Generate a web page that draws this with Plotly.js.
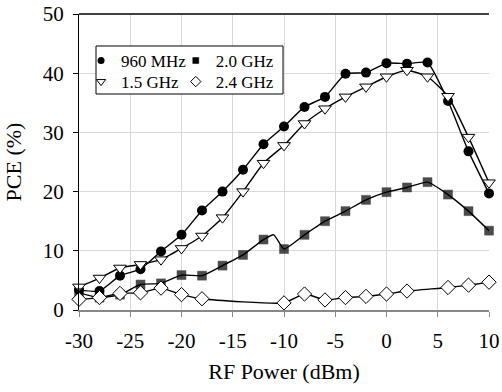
<!DOCTYPE html>
<html>
<head>
<meta charset="utf-8">
<script src="https://cdn.plot.ly/plotly-3.0.1.min.js"></script>
<style>html,body{margin:0;padding:0;background:#fff;}#chart{width:502px;height:392px;}</style>
</head>
<body>
<div id="chart"></div>
<script>
// RF input power (dBm)
const xPower = [-30,-28,-26,-24,-22,-20,-18,-16,-14,-12,-10,-8,-6,-4,-2,0,2,4,6,8,10];
const pce960MHz = [3.4,3.2,5.8,6.9,9.9,12.7,16.8,20.0,23.7,28.0,31.0,34.3,36.0,39.9,40.1,41.7,41.6,41.8,35.3,26.8,19.7];
const pce1500MHz = [3.9,5.4,7.1,7.7,8.5,10.4,12.5,15.6,20.0,24.8,27.8,31.5,34.0,36.0,37.7,39.4,40.5,39.4,36.1,29.2,21.5];
const xPower2G = [-30,-28,-26,-24,-22,-20,-18,-16,-14,-12,-11,-10,-8,-6,-4,-2,0,2,4,6,8,10];
const pce2000MHz = [2.9,2.1,2.6,4.3,4.5,5.9,5.8,7.5,9.3,11.9,12.7,10.3,12.7,15.0,16.7,18.6,19.9,20.7,21.6,19.5,16.7,13.4];
const xPower24G = [-30,-28,-26,-24,-22,-20,-18,-10,-8,-6,-4,-2,0,2,6,8,10];
const pce2400MHz = [1.8,2.1,2.8,2.9,3.7,2.6,1.9,1.2,2.7,1.7,2.1,2.3,2.7,3.2,3.8,4.2,4.7];
const seriesNames = ["960 MHz","1.5 GHz","2.0 GHz","2.4 GHz"];
const xTickVals = [-30,-25,-20,-15,-10,-5,0,5,10];
const xTickText = ["-30","-25","-20","-15","-10","-5","0","5","10"];
const yTickVals = [0,10,20,30,40,50];

const FONT = "Liberation Serif, Times New Roman, serif";
const lineStyle = {color:"#000", width:1.4, shape:"spline", smoothing:0.5};

const traces = [
  {x:xPower, y:pce960MHz, name:seriesNames[0], mode:"lines+markers", line:lineStyle,
   marker:{symbol:"circle", size:10, color:"#000"}, showlegend:false, cliponaxis:false},
  {x:xPower, y:pce1500MHz, name:seriesNames[1], mode:"lines+markers", line:lineStyle,
   marker:{symbol:"triangle-down", size:11, color:"#fff", line:{color:"#000", width:1}}, showlegend:false, cliponaxis:false},
  {x:xPower2G, y:pce2000MHz, name:seriesNames[2], mode:"lines+markers", line:lineStyle,
   marker:{symbol:"square", size:xPower2G.map(v => v % 2 === 0 ? 9 : 0), color:"#000", line:{color:"#000", width:0.5}}, showlegend:false, cliponaxis:false},
  {x:xPower24G, y:pce2400MHz, name:seriesNames[3], mode:"lines+markers", line:lineStyle,
   marker:{symbol:"diamond", size:11, color:"#fff", line:{color:"#000", width:1}}, showlegend:false, cliponaxis:false},
  // legend entries (marker only)
  {x:[null], y:[null], name:seriesNames[0], mode:"markers", legend:"legend",
   marker:{symbol:"circle", size:7, color:"#000"}},
  {x:[null], y:[null], name:seriesNames[2], mode:"markers", legend:"legend2",
   marker:{symbol:"square", size:6, color:"#000", line:{color:"#000", width:0.5}}},
  {x:[null], y:[null], name:seriesNames[1], mode:"markers", legend:"legend3",
   marker:{symbol:"triangle-down", size:8, color:"#fff", line:{color:"#000", width:1}}},
  {x:[null], y:[null], name:seriesNames[3], mode:"markers", legend:"legend4",
   marker:{symbol:"diamond", size:8, color:"#fff", line:{color:"#000", width:1}}}
];

function legendAt(x, y) {
  return {x:x, y:y, orientation:"v", xanchor:"left", yanchor:"top", bgcolor:"rgba(0,0,0,0)",
          borderwidth:0, font:{family:FONT, size:17, color:"#000"}};
}

const layout = {
  width:502, height:392,
  margin:{l:79, r:13, t:14, b:82},
  paper_bgcolor:"#fff", plot_bgcolor:"#fff",
  font:{family:FONT, color:"#000"},
  xaxis:{
    range:[-30,10], tickvals:xTickVals, ticktext:xTickText,
    showgrid:true, gridcolor:"#d9d9d9", gridwidth:1,
    showline:true, linecolor:"#888", linewidth:1.5,
    ticks:"outside", ticklen:5, tickcolor:"#888", tickwidth:1,
    ticklabelstandoff:6,
    tickfont:{family:FONT, size:21, color:"#000"},
    zeroline:false,
    title:{text:"RF Power (dBm)", font:{family:FONT, size:22, color:"#000"}, standoff:12}
  },
  yaxis:{
    range:[0,50], tickvals:yTickVals,
    showgrid:true, gridcolor:"#d9d9d9", gridwidth:1,
    showline:true, linecolor:"#000", linewidth:1,
    ticks:"outside", ticklen:5, tickcolor:"#000", tickwidth:1,
    ticklabelstandoff:5,
    tickfont:{family:FONT, size:21, color:"#000"},
    zeroline:false,
    title:{text:"PCE (%)", font:{family:FONT, size:22, color:"#000"}, standoff:15}
  },
  legend:legendAt(0.005, 0.902),
  legend2:legendAt(0.236, 0.902),
  legend3:legendAt(0.005, 0.831),
  legend4:legendAt(0.236, 0.831),
  shapes:[
    {type:"line", xref:"paper", yref:"paper", x0:0, x1:1, y0:1, y1:1, line:{color:"#000", width:1.5}},
    {type:"rect", xref:"paper", yref:"paper", x0:0.0415, x1:0.4976, y0:0.7297, y1:0.8919,
     line:{color:"#000", width:1}, fillcolor:"#fff", layer:"above"}
  ],
  showlegend:true
};

Plotly.newPlot("chart", traces, layout, {displayModeBar:false, staticPlot:true});
</script>
</body>
</html>
